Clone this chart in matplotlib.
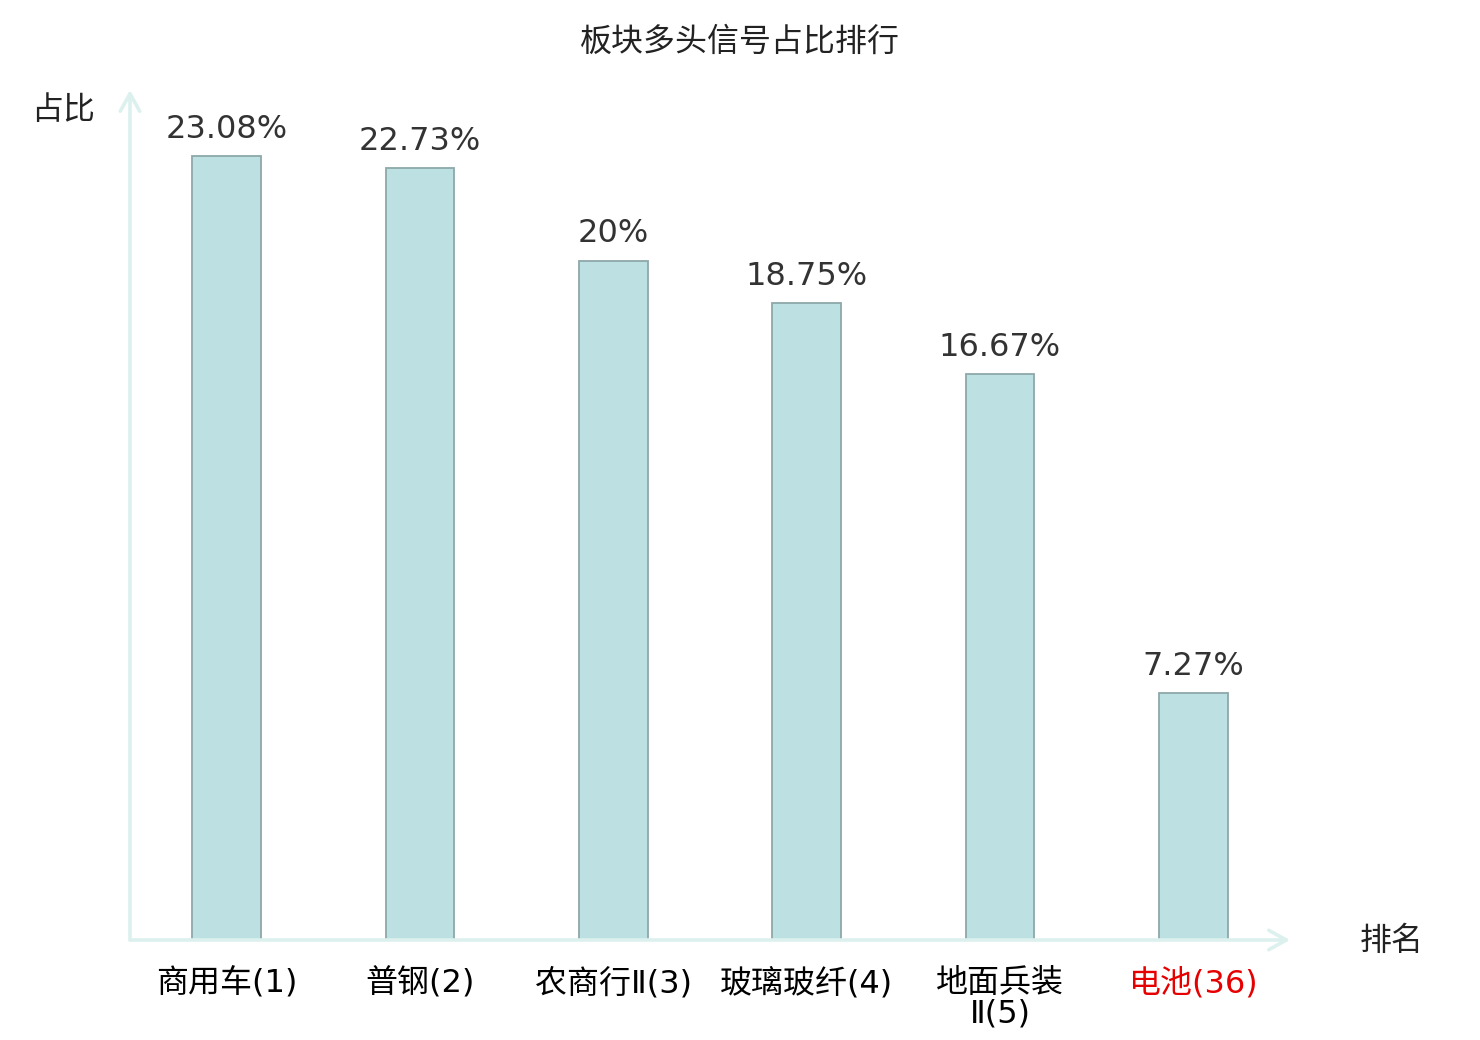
import matplotlib
matplotlib.use("Agg")
import matplotlib.pyplot as plt

plt.rcParams["font.family"] = ["DejaVu Sans", "Noto Sans CJK SC"]

# data
categories = ["商用车(1)", "普钢(2)", "农商行Ⅱ(3)", "玻璃玻纤(4)", "地面兵装\nⅡ(5)", "电池(36)"]
values = [23.08, 22.73, 20.0, 18.75, 16.67, 7.27]
value_labels = ["23.08%", "22.73%", "20%", "18.75%", "16.67%", "7.27%"]
highlight = "电池(36)"

title = "板块多头信号占比排行"
y_name = "占比"
x_name = "排名"

bar_face = "#bde0e3"
bar_edge = "#8da8a9"
axis_color = "#dcf1ee"
fs = 23

fig = plt.figure(figsize=(14.8, 10.4), dpi=100)
ax = fig.add_axes([130 / 1480, 100 / 1040, 1160 / 1480, 850 / 1040])

x = list(range(len(categories)))
bars = ax.bar(x, values, width=0.355, color=bar_face, edgecolor=bar_edge, linewidth=1.3, zorder=3)

for b, lab in zip(bars, value_labels):
    ax.annotate(lab, (b.get_x() + b.get_width() / 2, b.get_height()),
                xytext=(0, 8), textcoords="offset points",
                ha="center", va="bottom", fontsize=fs, color="#333333")

ax.set_xlim(-0.5, len(categories) - 0.5)
ax.set_ylim(0, 25.02)

for s in ax.spines.values():
    s.set_visible(False)
ax.set_yticks([])
ax.set_xticks(x)
ax.set_xticklabels(categories, fontsize=fs, linespacing=1.0, va="top")
ax.tick_params(axis="x", length=0, pad=20)
for t in ax.get_xticklabels():
    if t.get_text() == highlight:
        t.set_color("#e60000")

# axis lines with open arrow heads
arrow = dict(arrowstyle="->,head_length=0.45,head_width=0.25", color=axis_color,
             lw=2.6, mutation_scale=28, shrinkA=0, shrinkB=0)
ax.annotate("", xy=(1.0, 0), xytext=(0, 0), xycoords="axes fraction",
            arrowprops=arrow, annotation_clip=False)
ax.annotate("", xy=(0, 1.0), xytext=(0, 0), xycoords="axes fraction",
            arrowprops=arrow, annotation_clip=False)

fig.text(740 / 1480, 1 - 42 / 1040, title, ha="center", va="center", fontsize=fs, color="#222222")
fig.text(63 / 1480, 1 - 110 / 1040, y_name, ha="center", va="center", fontsize=fs, color="#222222")
fig.text(1392 / 1480, 1 - 941 / 1040, x_name, ha="center", va="center", fontsize=fs, color="#222222")

fig.savefig("out.png", dpi=100)
